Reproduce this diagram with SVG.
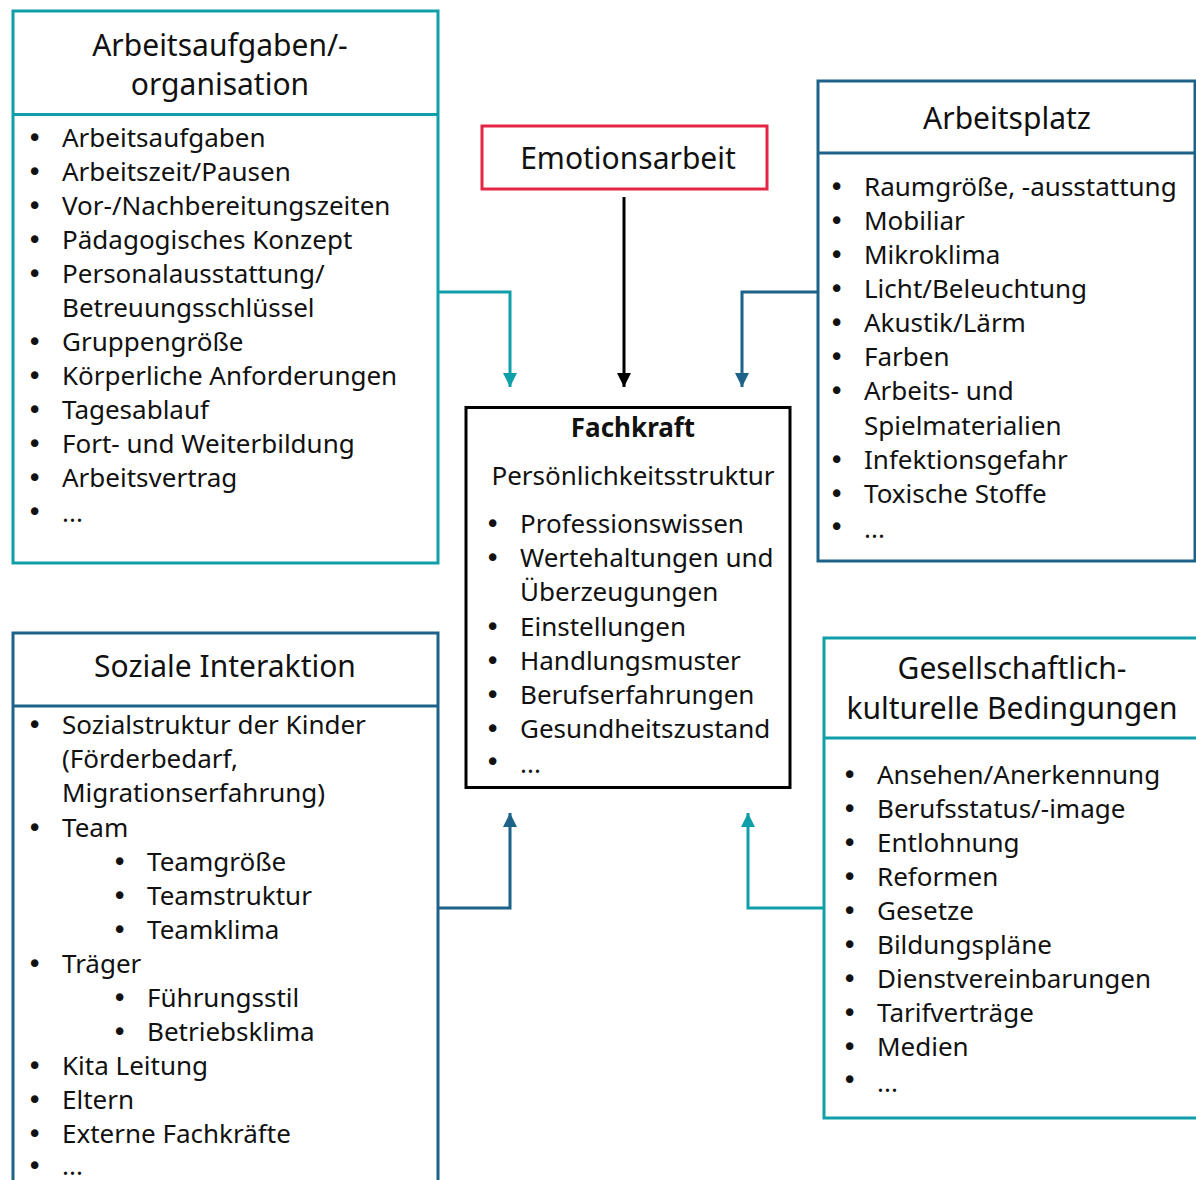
<svg xmlns="http://www.w3.org/2000/svg" width="1196" height="1180" viewBox="0 0 1196 1180">
  <defs>
    <style>
      text { font-family: "Noto Sans", "Liberation Sans", sans-serif; fill: #111; }
      .hd { font-size: 30px; text-anchor: middle; }
      .it { font-size: 26px; }
      .b { font-family: "DejaVu Sans", sans-serif; }
      .bold { font-weight: bold; }
      .box { fill: #fff; stroke-width: 3; }
      .teal { stroke: #0f9fa8; }
      .blue { stroke: #1d6389; }
      .line { fill: none; stroke-width: 3; }
    </style>
    <marker id="ahTeal" viewBox="0 0 10 10" refX="10" refY="5" markerWidth="4.7" markerHeight="4.7" orient="auto" markerUnits="strokeWidth">
      <path d="M0,0 L10,5 L0,10 z" fill="#0f9fa8"/>
    </marker>
    <marker id="ahBlue" viewBox="0 0 10 10" refX="10" refY="5" markerWidth="4.7" markerHeight="4.7" orient="auto" markerUnits="strokeWidth">
      <path d="M0,0 L10,5 L0,10 z" fill="#1d6389"/>
    </marker>
    <marker id="ahBlack" viewBox="0 0 10 10" refX="10" refY="5" markerWidth="4.7" markerHeight="4.7" orient="auto" markerUnits="strokeWidth">
      <path d="M0,0 L10,5 L0,10 z" fill="#000"/>
    </marker>
  </defs>

  <rect width="1196" height="1180" fill="#fff"/>

  <!-- connectors -->
  <g id="connectors">
    <path class="line teal" d="M438,292 H510 V387" marker-end="url(#ahTeal)"/>
    <path class="line" stroke="#000" d="M624,197 V387" marker-end="url(#ahBlack)"/>
    <path class="line blue" d="M817,292 H742 V387" marker-end="url(#ahBlue)"/>
    <path class="line blue" d="M438,908 H510 V813" marker-end="url(#ahBlue)"/>
    <path class="line teal" d="M823,908 H748 V813" marker-end="url(#ahTeal)"/>
  </g>

  <!-- Arbeitsaufgaben/-organisation -->
  <g id="arbeitsaufgaben">
    <rect class="box teal" x="13" y="11" width="425" height="552"/>
    <line class="line teal" x1="13" y1="114.5" x2="438" y2="114.5"/>
    <text class="hd" x="220" y="56">Arbeitsaufgaben/-</text>
    <text class="hd" x="220" y="95">organisation</text>
    <g class="it">
      <text x="27" y="147"><tspan class="b">•</tspan><tspan x="62">Arbeitsaufgaben</tspan></text>
      <text x="27" y="181"><tspan class="b">•</tspan><tspan x="62">Arbeitszeit/Pausen</tspan></text>
      <text x="27" y="215"><tspan class="b">•</tspan><tspan x="62">Vor-/Nachbereitungszeiten</tspan></text>
      <text x="27" y="249"><tspan class="b">•</tspan><tspan x="62">Pädagogisches Konzept</tspan></text>
      <text x="27" y="283"><tspan class="b">•</tspan><tspan x="62">Personalausstattung/</tspan></text>
      <text x="62" y="317">Betreuungsschlüssel</text>
      <text x="27" y="351"><tspan class="b">•</tspan><tspan x="62">Gruppengröße</tspan></text>
      <text x="27" y="385"><tspan class="b">•</tspan><tspan x="62">Körperliche Anforderungen</tspan></text>
      <text x="27" y="419"><tspan class="b">•</tspan><tspan x="62">Tagesablauf</tspan></text>
      <text x="27" y="453"><tspan class="b">•</tspan><tspan x="62">Fort- und Weiterbildung</tspan></text>
      <text x="27" y="487"><tspan class="b">•</tspan><tspan x="62">Arbeitsvertrag</tspan></text>
      <text x="27" y="521"><tspan class="b">•</tspan><tspan x="62" dy="1">...</tspan></text>
    </g>
  </g>

  <!-- Emotionsarbeit -->
  <g id="emotionsarbeit">
    <rect class="box" stroke="#e52544" x="482" y="126" width="285" height="63"/>
    <text class="hd" x="628" y="169">Emotionsarbeit</text>
  </g>

  <!-- Fachkraft -->
  <g id="fachkraft">
    <rect class="box" stroke="#000" x="466" y="407.5" width="324" height="380"/>
    <text class="it bold" x="633" y="437" text-anchor="middle">Fachkraft</text>
    <text class="it" x="633" y="485" text-anchor="middle">Persönlichkeitsstruktur</text>
    <g class="it">
      <text x="485" y="533"><tspan class="b">•</tspan><tspan x="520">Professionswissen</tspan></text>
      <text x="485" y="567"><tspan class="b">•</tspan><tspan x="520">Wertehaltungen und</tspan></text>
      <text x="520" y="601">Überzeugungen</text>
      <text x="485" y="636"><tspan class="b">•</tspan><tspan x="520">Einstellungen</tspan></text>
      <text x="485" y="670"><tspan class="b">•</tspan><tspan x="520">Handlungsmuster</tspan></text>
      <text x="485" y="704"><tspan class="b">•</tspan><tspan x="520">Berufserfahrungen</tspan></text>
      <text x="485" y="738"><tspan class="b">•</tspan><tspan x="520">Gesundheitszustand</tspan></text>
      <text x="485" y="771"><tspan class="b">•</tspan><tspan x="520" dy="2">...</tspan></text>
    </g>
  </g>

  <!-- Arbeitsplatz -->
  <g id="arbeitsplatz">
    <rect class="box blue" x="818" y="81" width="377" height="480"/>
    <line class="line blue" x1="818" y1="153" x2="1195" y2="153"/>
    <text class="hd" x="1007" y="129">Arbeitsplatz</text>
    <g class="it">
      <text x="829" y="196"><tspan class="b">•</tspan><tspan x="864">Raumgröße, -ausstattung</tspan></text>
      <text x="829" y="230"><tspan class="b">•</tspan><tspan x="864">Mobiliar</tspan></text>
      <text x="829" y="264"><tspan class="b">•</tspan><tspan x="864">Mikroklima</tspan></text>
      <text x="829" y="298"><tspan class="b">•</tspan><tspan x="864">Licht/Beleuchtung</tspan></text>
      <text x="829" y="332"><tspan class="b">•</tspan><tspan x="864">Akustik/Lärm</tspan></text>
      <text x="829" y="366"><tspan class="b">•</tspan><tspan x="864">Farben</tspan></text>
      <text x="829" y="400"><tspan class="b">•</tspan><tspan x="864">Arbeits- und</tspan></text>
      <text x="864" y="435">Spielmaterialien</text>
      <text x="829" y="469"><tspan class="b">•</tspan><tspan x="864">Infektionsgefahr</tspan></text>
      <text x="829" y="503"><tspan class="b">•</tspan><tspan x="864">Toxische Stoffe</tspan></text>
      <text x="829" y="536"><tspan class="b">•</tspan><tspan x="864" dy="2">...</tspan></text>
    </g>
  </g>

  <!-- Soziale Interaktion -->
  <g id="soziale-interaktion">
    <rect class="box blue" x="13" y="633" width="425" height="570"/>
    <line class="line blue" x1="13" y1="706" x2="438" y2="706"/>
    <text class="hd" x="225" y="677">Soziale Interaktion</text>
    <g class="it">
      <text x="27" y="734"><tspan class="b">•</tspan><tspan x="62">Sozialstruktur der Kinder</tspan></text>
      <text x="62" y="768">(Förderbedarf,</text>
      <text x="62" y="802">Migrationserfahrung)</text>
      <text x="27" y="837"><tspan class="b">•</tspan><tspan x="62">Team</tspan></text>
      <text x="112" y="871"><tspan class="b">•</tspan><tspan x="147">Teamgröße</tspan></text>
      <text x="112" y="905"><tspan class="b">•</tspan><tspan x="147">Teamstruktur</tspan></text>
      <text x="112" y="939"><tspan class="b">•</tspan><tspan x="147">Teamklima</tspan></text>
      <text x="27" y="973"><tspan class="b">•</tspan><tspan x="62">Träger</tspan></text>
      <text x="112" y="1007"><tspan class="b">•</tspan><tspan x="147">Führungsstil</tspan></text>
      <text x="112" y="1041"><tspan class="b">•</tspan><tspan x="147">Betriebsklima</tspan></text>
      <text x="27" y="1075"><tspan class="b">•</tspan><tspan x="62">Kita Leitung</tspan></text>
      <text x="27" y="1109"><tspan class="b">•</tspan><tspan x="62">Eltern</tspan></text>
      <text x="27" y="1143"><tspan class="b">•</tspan><tspan x="62">Externe Fachkräfte</tspan></text>
      <text x="27" y="1175"><tspan class="b">•</tspan><tspan x="62">...</tspan></text>
    </g>
  </g>

  <!-- Gesellschaftlich-kulturelle Bedingungen -->
  <g id="gesellschaftlich">
    <rect class="box teal" x="824" y="638" width="400" height="480"/>
    <line class="line teal" x1="824" y1="738" x2="1200" y2="738"/>
    <text class="hd" x="1012" y="679">Gesellschaftlich-</text>
    <text class="hd" x="1012" y="719">kulturelle Bedingungen</text>
    <g class="it">
      <text x="842" y="784"><tspan class="b">•</tspan><tspan x="877">Ansehen/Anerkennung</tspan></text>
      <text x="842" y="818"><tspan class="b">•</tspan><tspan x="877">Berufsstatus/-image</tspan></text>
      <text x="842" y="852"><tspan class="b">•</tspan><tspan x="877">Entlohnung</tspan></text>
      <text x="842" y="886"><tspan class="b">•</tspan><tspan x="877">Reformen</tspan></text>
      <text x="842" y="920"><tspan class="b">•</tspan><tspan x="877">Gesetze</tspan></text>
      <text x="842" y="954"><tspan class="b">•</tspan><tspan x="877">Bildungspläne</tspan></text>
      <text x="842" y="988"><tspan class="b">•</tspan><tspan x="877">Dienstvereinbarungen</tspan></text>
      <text x="842" y="1022"><tspan class="b">•</tspan><tspan x="877">Tarifverträge</tspan></text>
      <text x="842" y="1056"><tspan class="b">•</tspan><tspan x="877">Medien</tspan></text>
      <text x="842" y="1089"><tspan class="b">•</tspan><tspan x="877" dy="3">...</tspan></text>
    </g>
  </g>
</svg>
